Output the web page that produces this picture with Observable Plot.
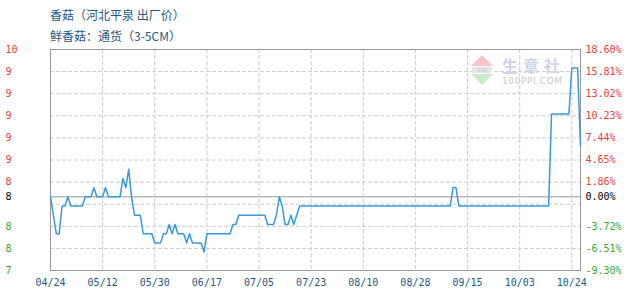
<!DOCTYPE html>
<html><head><meta charset="utf-8">
<script src="https://cdn.jsdelivr.net/npm/d3@7"></script>
<script src="https://cdn.jsdelivr.net/npm/@observablehq/plot@0.6"></script>
<style>
body{margin:0;background:#fff;}
#wrap{position:relative;width:630px;height:300px;overflow:hidden;background:#fff;}
#chart svg{display:block;}
.t{position:absolute;left:50px;font:12px "Noto Sans CJK SC",sans-serif;color:#1f5a8a;white-space:nowrap;line-height:12px;}
#wm{position:absolute;left:471px;top:55px;width:100px;height:32px;pointer-events:none;}
.triU{position:absolute;left:0;top:0;width:0;height:0;border-left:11px solid transparent;border-right:11px solid transparent;border-bottom:11px solid #f6c4c4;}
.band{position:absolute;left:1px;top:12px;width:20px;height:6px;background:#e6e6e6;font:5px "DejaVu Sans";color:#bbb;text-align:center;line-height:6px;}
.triD{position:absolute;left:0;top:19px;width:0;height:0;border-left:11px solid transparent;border-right:11px solid transparent;border-top:11px solid #c8ecc8;}
.wmt{position:absolute;left:31px;top:2px;font:bold 16px "Noto Sans CJK SC",sans-serif;color:#cfd4e6;letter-spacing:5px;line-height:16px;white-space:nowrap;}
.wmu{position:absolute;left:31px;top:22px;font:9px "DejaVu Sans",sans-serif;color:#c8c8c8;line-height:9px;white-space:nowrap;letter-spacing:0.6px;}
</style></head><body>
<div id="wrap">
<div id="chart"></div>
<div class="t" style="top:9px">香菇（河北平泉 出厂价）</div>
<div class="t" style="top:30px">鲜香菇：通货（3-5CM）</div>
<div id="wm"><div class="triU"></div><div class="band">100</div><div class="triD"></div><div class="wmt">生意社</div><div class="wmu">100PPI.COM</div></div>
</div>
<script>
// Base price (0.00% line)
const basePrice = 8.6;
// Day slot index of each reading, and price read at that slot
const slots  = [0,1,2,3,4,5,6,7,11,12,14,15,16,18,19,20,24,25,26,27,28,29,31,32,35,36,38,39,40,41,42,43,44,46,47,48,49,52,53,54,62,63,64,65,74,75,77,78,79,80,81,82,83,84,85,86,138,139,140,141,172,173,179,180,182,183];
const prices = [8.6,8.4,8.2,8.2,8.5,8.5,8.6,8.5,8.5,8.6,8.6,8.7,8.6,8.6,8.7,8.6,8.6,8.8,8.7,8.9,8.6,8.4,8.4,8.2,8.2,8.1,8.1,8.2,8.2,8.3,8.2,8.3,8.2,8.2,8.1,8.2,8.1,8.1,8.0,8.2,8.2,8.3,8.3,8.4,8.4,8.3,8.3,8.4,8.6,8.5,8.3,8.3,8.4,8.3,8.4,8.5,8.5,8.7,8.7,8.5,8.5,9.5,9.5,10.0,10.0,9.15];

// X ticks (slot index) and their date labels
const xTicks  = [0,18,36,54,72,90,108,126,144,162,180];
const xLabels = ["04/24","05/12","05/30","06/17","07/05","07/23","08/10","08/28","09/15","10/03","10/24"];

// Right axis percentage ticks; left axis price labels at the same ticks
const pctTicks   = [18.60,15.81,13.02,10.23,7.44,4.65,1.86,0,-3.72,-6.51,-9.30];
const priceLabels = ["10","9","9","9","9","9","8","8","8","8","7"];
const gridTicks  = [15.81,13.02,10.23,7.44,4.65,1.86,-0.93,-3.72,-6.51];

const data = slots.map((s,i)=>({slot:s, pct:(prices[i]/basePrice-1)*100}));
const tickRows = pctTicks.map((v,i)=>({v, price:priceLabels[i]}));
const pos = tickRows.filter(d=>d.v>0), neg = tickRows.filter(d=>d.v<0), zero = tickRows.filter(d=>d.v===0);

const font = "DejaVu Sans Mono";
const leftText = (rows, fill) => Plot.text(rows, {y:"v", text:"price", frameAnchor:"left", dx:-45, textAnchor:"start", fill, fontFamily:font, fontSize:10});
const rightText = (rows, fill) => Plot.text(rows, {y:"v", text:d=>d.v.toFixed(2)+"%", frameAnchor:"right", dx:5, textAnchor:"start", fill, fontFamily:font, fontSize:10});

const chart = Plot.plot({
  width:630, height:300,
  marginLeft:50, marginRight:50, marginTop:49, marginBottom:30,
  x:{domain:[0,183], axis:null},
  y:{domain:[-9.3,18.6], axis:null},
  style:{background:"transparent"},
  marks:[
    Plot.ruleY(gridTicks, {stroke:"#cccccc", strokeDasharray:"4,2"}),
    Plot.ruleX(xTicks.slice(1), {stroke:"#cccccc", strokeDasharray:"4,2"}),
    Plot.ruleY([0], {stroke:"#999999"}),
    Plot.frame({stroke:"#999999"}),
    Plot.line(data, {x:"slot", y:"pct", stroke:"#3a9ad9", strokeWidth:1.5}),
    leftText(pos, "#e8413c"), leftText(zero, "#000000"), leftText(neg, "#33aa33"),
    rightText(pos, "#e8413c"), rightText(zero, "#000000"), rightText(neg, "#33aa33"),
    Plot.text(xTicks, {x:d=>d, text:(d,i)=>xLabels[i], frameAnchor:"bottom", dy:15, fill:"#1f5a8a", fontFamily:font, fontSize:10})
  ]
});
document.getElementById("chart").appendChild(chart);
</script>
</body></html>
